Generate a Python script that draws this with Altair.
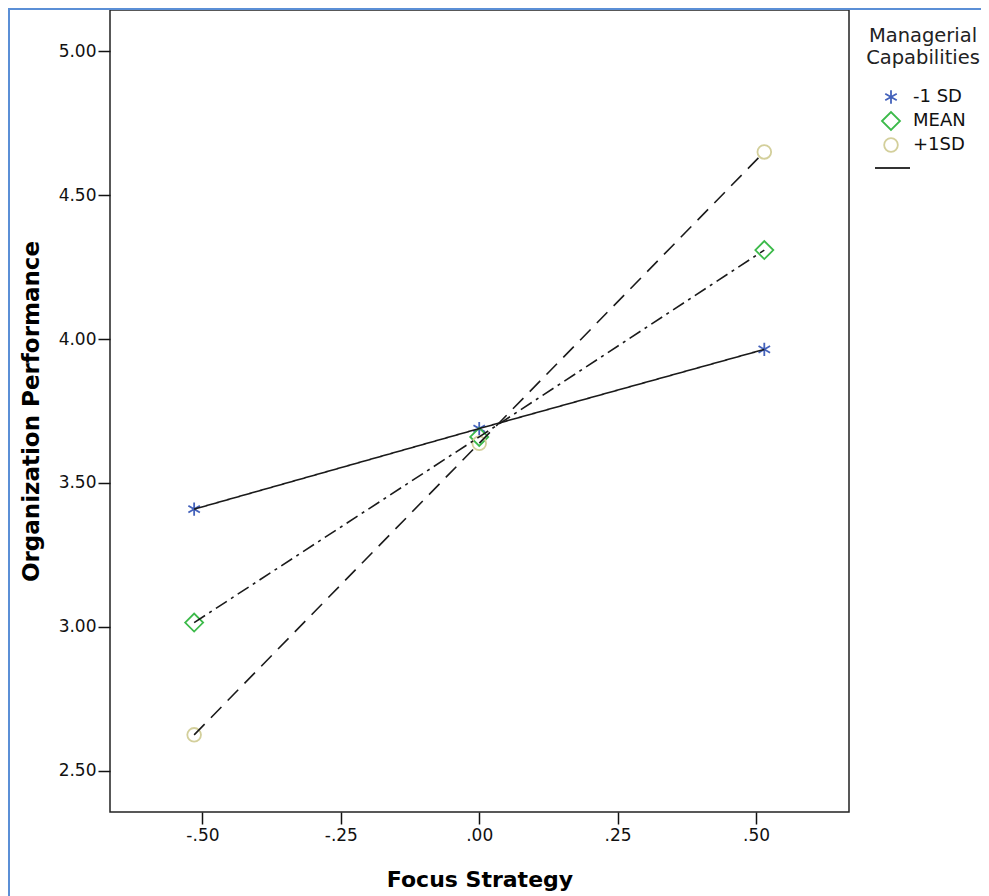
import altair as alt
import pandas as pd

# ---- data ----
focus_x = [-0.515, 0.0, 0.515]
groups = ["-1 SD", "MEAN", "+1SD"]
perf_low = [3.409, 3.689, 3.964]
perf_mean = [3.015, 3.660, 4.309]
perf_high = [2.625, 3.638, 4.650]
y_ticks = [2.50, 3.00, 3.50, 4.00, 4.50, 5.00]
x_ticks = [-0.50, -0.25, 0.00, 0.25, 0.50]

rows = []
for g, vals in zip(groups, [perf_low, perf_mean, perf_high]):
    for x, v in zip(focus_x, vals):
        rows.append({"Focus Strategy": x, "Organization Performance": v, "group": g})
df = pd.DataFrame(rows)

FONT = "DejaVu Sans"
# marker outlines drawn inside the [-1, 1] symbol box
star_path = ("M0,-0.74L0,0.74M-0.64,-0.37L0.64,0.37M-0.64,0.37L0.64,-0.37")
diamond_path = "M-1,0L0,-1L1,0L0,1Z"
circle_path = "M0.76,0A0.76,0.76 0 1,1 -0.76,0A0.76,0.76 0 1,1 0.76,0Z"

x_enc = alt.X(
    "Focus Strategy:Q",
    scale=alt.Scale(domain=[-0.667, 0.668], nice=False, zero=False),
    axis=alt.Axis(
        title="Focus Strategy", values=x_ticks,
        labelExpr="replace(replace(format(datum.value, '.2f'), '0.', '.'), '\u2212', '-')",
        grid=False, domain=False, tickSize=12, tickWidth=1.5, tickColor="#111",
        labelFont=FONT, labelFontSize=17, labelColor="#111", labelPadding=3,
        titleFont=FONT, titleFontSize=22, titleFontWeight="bold", titleColor="#000",
        titleBaseline="alphabetic", titleY=74,
    ),
)
y_enc = alt.Y(
    "Organization Performance:Q",
    scale=alt.Scale(domain=[2.357, 5.143], nice=False, zero=False),
    axis=alt.Axis(
        title="Organization Performance", values=y_ticks, format=".2f",
        grid=False, domain=False, tickSize=12, tickWidth=1.5, tickColor="#111",
        labelFont=FONT, labelFontSize=17, labelColor="#111", labelPadding=2,
        titleFont=FONT, titleFontSize=23, titleFontWeight="bold", titleColor="#000",
        titleBaseline="alphabetic", titleX=-72,
    ),
)

points = alt.Chart(df).mark_point(filled=False, strokeWidth=1.8, opacity=1, size=324).encode(
    x=x_enc,
    y=y_enc,
    color=alt.Color(
        "group:N",
        scale=alt.Scale(domain=groups, range=["#4462bb", "#3cba4a", "#d3cf9b"]),
        legend=alt.Legend(
            title=["Managerial", "Capabilities"],
            orient="none", legendX=756, legendY=17,
            titleFont=FONT, titleFontSize=19.5, titleFontWeight="normal",
            titleColor="#222", titleLineHeight=21.5, titleAlign="center",
            titleAnchor="middle", titlePadding=19,
            labelFont=FONT, labelFontSize=18, labelColor="#111",
            labelOffset=12, rowPadding=0, padding=0, symbolSize=324,
            symbolStrokeWidth=1.8,
        ),
    ),
    shape=alt.Shape(
        "group:N",
        scale=alt.Scale(domain=groups, range=[star_path, diamond_path, circle_path]),
    ),
)

lines = alt.Chart(df).mark_line(color="#1a1a1a", strokeWidth=1.6).encode(
    x="Focus Strategy:Q",
    y="Organization Performance:Q",
    detail="group:N",
    strokeDash=alt.StrokeDash(
        "group:N",
        scale=alt.Scale(domain=groups, range=[[1, 0], [13, 5, 3, 5], [15, 9]]),
        legend=None,
    ),
)

legend_line = alt.Chart(pd.DataFrame({"k": [0]})).mark_rule(color="#333", strokeWidth=2).encode(
    x=alt.value(765), x2=alt.value(800), y=alt.value(158)
)
border_left = alt.Chart(pd.DataFrame({"k": [0]})).mark_rule(color="#5b8fd6", strokeWidth=2).encode(
    x=alt.value(-101), y=alt.value(-2), y2=alt.value(886)
)
border_top = alt.Chart(pd.DataFrame({"k": [0]})).mark_rule(color="#5b8fd6", strokeWidth=2).encode(
    x=alt.value(-102), x2=alt.value(871), y=alt.value(-1)
)

chart = (
    alt.layer(points, lines, legend_line, border_left, border_top)
    .resolve_scale(strokeDash="independent")
    .properties(
        width=739, height=802,
        autosize=alt.AutoSizeParams(type="none"),
        padding={"left": 102, "top": 2, "right": 132, "bottom": 84},
        background="white",
    )
    .configure_view(stroke="#222", strokeWidth=1.5)
)

chart.save("out.html", embed_options={"renderer": "svg", "actions": False})
